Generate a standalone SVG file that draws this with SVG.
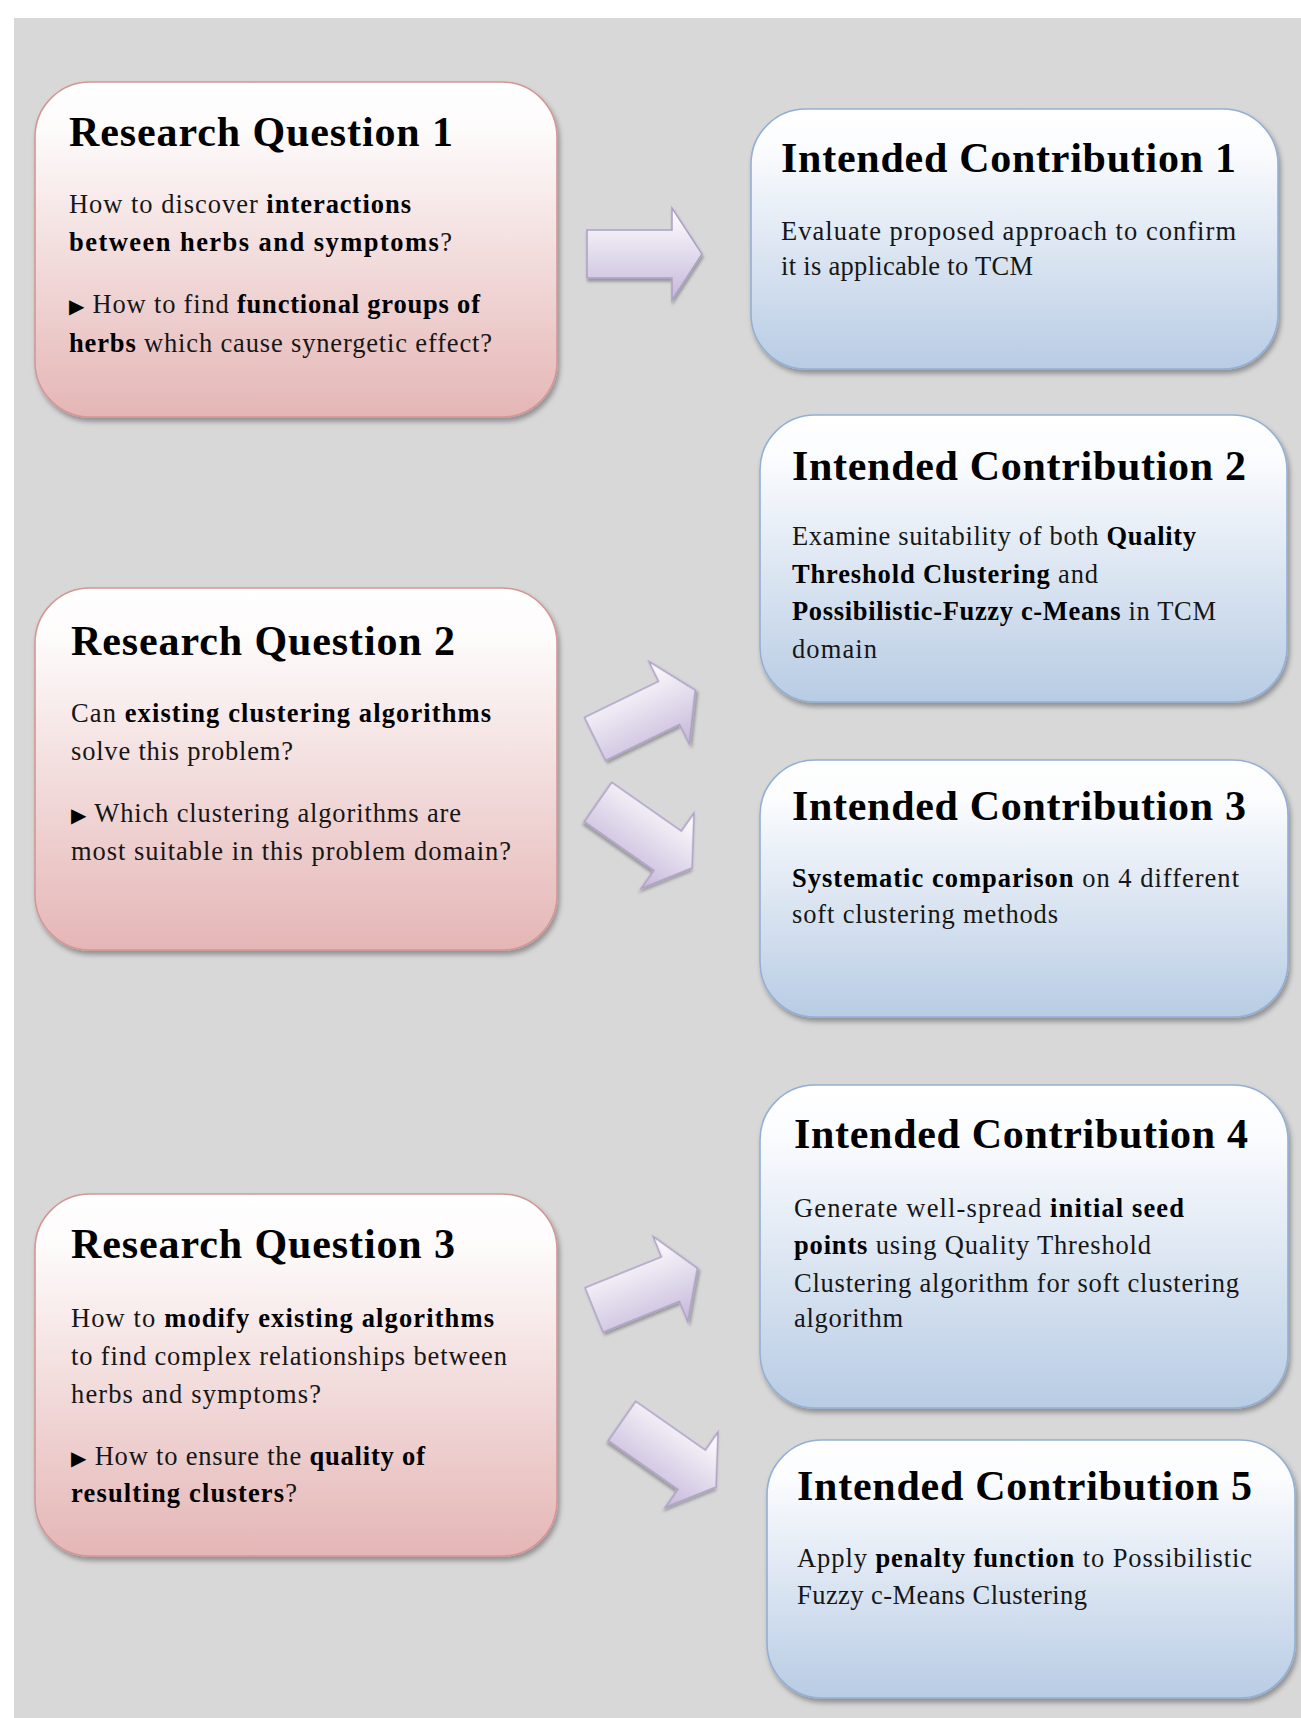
<svg xmlns="http://www.w3.org/2000/svg" xmlns:xlink="http://www.w3.org/1999/xlink" width="1301" height="1718" viewBox="0 0 1301 1718">
  <defs>
    <linearGradient id="gPink" x1="0" y1="0" x2="0" y2="1">
      <stop offset="0" stop-color="#ffffff"/>
      <stop offset="0.15" stop-color="#fdfafa"/>
      <stop offset="1" stop-color="#e5b6b6"/>
    </linearGradient>
    <linearGradient id="gBlue" x1="0" y1="0" x2="0" y2="1">
      <stop offset="0" stop-color="#ffffff"/>
      <stop offset="0.15" stop-color="#fbfcfe"/>
      <stop offset="1" stop-color="#b8cce4"/>
    </linearGradient>
    <linearGradient id="gLilac" x1="0" y1="0" x2="0" y2="1">
      <stop offset="0" stop-color="#ffffff"/>
      <stop offset="1" stop-color="#c6b8da"/>
    </linearGradient>
    <filter id="shadow" x="-10%" y="-10%" width="125%" height="130%">
      <feDropShadow dx="2" dy="4" stdDeviation="2.5" flood-color="#000" flood-opacity="0.33"/>
    </filter>
    <filter id="ashadow" x="-20%" y="-20%" width="150%" height="150%">
      <feDropShadow dx="1" dy="3" stdDeviation="1.5" flood-color="#000" flood-opacity="0.3"/>
    </filter>
    <!-- block arrow, tail at origin, pointing along +x -->
    <path id="arrow" d="M0,-24 H85 V-46 L115,0 L85,46 V24 H0 Z"/>
    <style>
      .rq rect { fill: url(#gPink); stroke: #d39796; stroke-width: 1.6; filter: url(#shadow); }
      .ic rect { fill: url(#gBlue); stroke: #93b0d4; stroke-width: 1.6; filter: url(#shadow); }
      .t { font-family: "Liberation Serif", "Times New Roman", serif; font-weight: bold; font-size: 42px; fill: #000; }
      .b { font-family: "Liberation Serif", "Times New Roman", serif; font-size: 26.5px; fill: #161616; }
      .bd { font-weight: bold; fill: #000; }
      .bu { font-family: "DejaVu Sans", sans-serif; font-size: 20px; fill: #000; }
      .arr use { fill: url(#gLilac); stroke: #ad9fc6; stroke-width: 1.5; filter: url(#ashadow); }
    </style>
  </defs>

  <!-- page background -->
  <rect x="0" y="0" width="1301" height="1718" fill="#ffffff"/>
  <rect x="14" y="18" width="1287" height="1700" fill="#d8d8d8"/>

  <!-- research questions -->
  <g id="rq1" class="rq">
    <rect x="35" y="82" width="522" height="335" rx="55" ry="55"/>
    <text class="t" x="69" y="146" textLength="384">Research Question 1</text>
    <text class="b" x="69" y="213" textLength="342">How to discover <tspan class="bd">interactions</tspan></text>
    <text class="b" x="69" y="251" textLength="383"><tspan class="bd">between herbs and symptoms</tspan>?</text>
    <text class="b" x="69" y="313" textLength="411"><tspan class="bu">▶</tspan> How to find <tspan class="bd">functional groups of</tspan></text>
    <text class="b" x="69" y="352" textLength="423"><tspan class="bd">herbs</tspan> which cause synergetic effect?</text>
  </g>

  <g id="rq2" class="rq">
    <rect x="35" y="588" width="522" height="362" rx="55" ry="55"/>
    <text class="t" x="71" y="655" textLength="384">Research Question 2</text>
    <text class="b" x="71" y="722" textLength="420">Can <tspan class="bd">existing clustering algorithms</tspan></text>
    <text class="b" x="71" y="760" textLength="222">solve this problem?</text>
    <text class="b" x="71" y="822" textLength="390"><tspan class="bu">▶</tspan> Which clustering algorithms are</text>
    <text class="b" x="71" y="860" textLength="440">most suitable in this problem domain?</text>
  </g>

  <g id="rq3" class="rq">
    <rect x="35" y="1194" width="522" height="362" rx="55" ry="55"/>
    <text class="t" x="71" y="1258" textLength="384">Research Question 3</text>
    <text class="b" x="71" y="1327" textLength="423">How to <tspan class="bd">modify existing algorithms</tspan></text>
    <text class="b" x="71" y="1365" textLength="436">to find complex relationships between</text>
    <text class="b" x="71" y="1403" textLength="250">herbs and symptoms?</text>
    <text class="b" x="71" y="1465" textLength="354"><tspan class="bu">▶</tspan> How to ensure the <tspan class="bd">quality of</tspan></text>
    <text class="b" x="71" y="1502" textLength="226"><tspan class="bd">resulting clusters</tspan>?</text>
  </g>

  <!-- intended contributions -->
  <g id="ic1" class="ic">
    <rect x="751" y="109" width="527" height="260" rx="55" ry="55"/>
    <text class="t" x="781" y="172" textLength="455">Intended Contribution 1</text>
    <text class="b" x="781" y="240" textLength="455">Evaluate proposed approach to confirm</text>
    <text class="b" x="781" y="275" textLength="252">it is applicable to TCM</text>
  </g>

  <g id="ic2" class="ic">
    <rect x="760" y="415" width="527" height="287" rx="55" ry="55"/>
    <text class="t" x="792" y="480" textLength="454">Intended Contribution 2</text>
    <text class="b" x="792" y="545" textLength="404">Examine suitability of both <tspan class="bd">Quality</tspan></text>
    <text class="b" x="792" y="583" textLength="306"><tspan class="bd">Threshold Clustering</tspan> and</text>
    <text class="b" x="792" y="620" textLength="424"><tspan class="bd">Possibilistic-Fuzzy c-Means</tspan> in TCM</text>
    <text class="b" x="792" y="658" textLength="85">domain</text>
  </g>

  <g id="ic3" class="ic">
    <rect x="760" y="760" width="528" height="257" rx="55" ry="55"/>
    <text class="t" x="792" y="820" textLength="454">Intended Contribution 3</text>
    <text class="b" x="792" y="887" textLength="447"><tspan class="bd">Systematic comparison</tspan> on 4 different</text>
    <text class="b" x="792" y="923" textLength="266">soft clustering methods</text>
  </g>

  <g id="ic4" class="ic">
    <rect x="760" y="1085" width="528" height="323" rx="55" ry="55"/>
    <text class="t" x="794" y="1148" textLength="454">Intended Contribution 4</text>
    <text class="b" x="794" y="1217" textLength="390">Generate well-spread <tspan class="bd">initial seed</tspan></text>
    <text class="b" x="794" y="1254" textLength="357"><tspan class="bd">points</tspan> using Quality Threshold</text>
    <text class="b" x="794" y="1292" textLength="445">Clustering algorithm for soft clustering</text>
    <text class="b" x="794" y="1327" textLength="109">algorithm</text>
  </g>

  <g id="ic5" class="ic">
    <rect x="767" y="1440" width="528" height="258" rx="55" ry="55"/>
    <text class="t" x="797" y="1500" textLength="455">Intended Contribution 5</text>
    <text class="b" x="797" y="1567" textLength="455">Apply <tspan class="bd">penalty function</tspan> to Possibilistic</text>
    <text class="b" x="797" y="1604" textLength="290">Fuzzy c-Means Clustering</text>
  </g>

  <!-- connectors: block arrows from questions to contributions -->
  <g id="connectors" class="arr">
    <use xlink:href="#arrow" href="#arrow" transform="translate(587,254)"/>
    <use xlink:href="#arrow" href="#arrow" transform="translate(595,739) rotate(-26) scale(0.97,1)"/>
    <use xlink:href="#arrow" href="#arrow" transform="translate(598,802) rotate(35)"/>
    <use xlink:href="#arrow" href="#arrow" transform="translate(594,1310) rotate(-22) scale(0.97,1)"/>
    <use xlink:href="#arrow" href="#arrow" transform="translate(622,1421) rotate(35)"/>
  </g>
</svg>
